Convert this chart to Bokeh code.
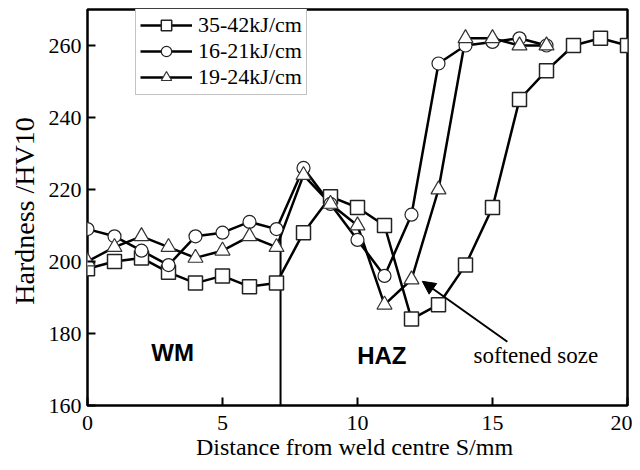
from bokeh.plotting import figure
from bokeh.models import Range1d, Legend, LegendItem, Label, Arrow, NormalHead, FixedTicker
from bokeh.embed import file_html
from bokeh.resources import INLINE

# ---- data ----
x_sq = list(range(0, 21))
hv_sq = [198, 200, 201, 197, 194, 196, 193, 194, 208, 218, 215, 210, 184, 188, 199, 215, 245, 253, 260, 262, 260]
x_ci = list(range(0, 18))
hv_ci = [209, 207, 203, 199, 207, 208, 211, 209, 226, 216, 206, 196, 213, 255, 260, 261, 262, 260]
x_tr = list(range(0, 18))
hv_tr = [200, 204, 207, 204, 201, 203, 207, 204, 224, 216, 210, 188, 195, 220, 262, 262, 260, 260]
labels = ["35-42kJ/cm", "16-21kJ/cm", "19-24kJ/cm"]
x_ticks = [0, 5, 10, 15, 20]
y_ticks = [160, 180, 200, 220, 240, 260]
boundary_x = 7.15
boundary_top = 209
arrow_from = (15.55, 177.7)
arrow_to = (12.4, 194.5)

SERIF = "Liberation Serif"
SANS = "Liberation Sans"

p = figure(width=632, height=468, output_backend="svg", toolbar_location=None,
           x_range=Range1d(0, 20), y_range=Range1d(160, 270),
           min_border_left=87, min_border_right=5, min_border_top=9, min_border_bottom=63)
p.xgrid.visible = False
p.ygrid.visible = False
p.outline_line_color = "black"
p.outline_line_width = 2.5
p.outline_line_alpha = 1.0

for ax in (p.xaxis[0], p.yaxis[0]):
    ax.axis_line_color = None
    ax.major_tick_in = 8
    ax.major_tick_out = 0
    ax.major_tick_line_width = 2
    ax.minor_tick_line_color = None
    ax.major_label_text_font = SERIF
    ax.major_label_text_font_size = "22px"
    ax.major_label_text_color = "black"
    ax.major_label_standoff = 6
    ax.axis_label_text_font = SERIF
    ax.axis_label_text_font_style = "normal"
    ax.axis_label_text_color = "black"
p.xaxis.ticker = FixedTicker(ticks=x_ticks)
p.yaxis.ticker = FixedTicker(ticks=y_ticks)
p.xaxis.major_label_standoff = 10
p.yaxis.axis_label = "Hardness  /HV10"
p.yaxis.axis_label_text_font_size = "28px"
p.yaxis.axis_label_standoff = 6
p.xaxis.axis_label = "Distance from weld centre  S/mm"
p.xaxis.axis_label_text_font_size = "24px"
p.xaxis.axis_label_standoff = 1

# boundary line
p.segment(x0=[boundary_x], y0=[160], x1=[boundary_x], y1=[boundary_top], line_color="black", line_width=2)

lw = 2.5
r_sq_l = p.line(x_sq, hv_sq, line_color="black", line_width=lw)
r_ci_l = p.line(x_ci, hv_ci, line_color="black", line_width=lw)
r_tr_l = p.line(x_tr, hv_tr, line_color="black", line_width=lw)
r_sq_m = p.scatter(x_sq, hv_sq, marker="square", size=14, fill_color="white", line_color="#222222", line_width=1.5)
r_ci_m = p.scatter(x_ci, hv_ci, marker="circle", size=13, fill_color="white", line_color="#222222", line_width=1.2)
r_tr_m = p.scatter(x_tr, hv_tr, marker="triangle", size=15, fill_color="white", line_color="#333333", line_width=1.2)

legend = Legend(items=[
    LegendItem(label=labels[0], renderers=[r_sq_l, r_sq_m]),
    LegendItem(label=labels[1], renderers=[r_ci_l, r_ci_m]),
    LegendItem(label=labels[2], renderers=[r_tr_l, r_tr_m]),
], location=(48, 310))
legend.label_text_font = SERIF
legend.label_text_font_size = "22px"
legend.label_text_color = "black"
legend.label_standoff = 6
legend.glyph_width = 52
legend.glyph_height = 26
legend.label_height = 26
legend.spacing = 0
legend.padding = 4
legend.margin = 0
legend.border_line_color = "#888888"
legend.border_line_width = 1
legend.background_fill_color = "white"
legend.background_fill_alpha = 1.0
p.add_layout(legend, "center")

# annotations
p.add_layout(Label(x=3.15, y=174.8, text="WM", text_font=SANS, text_font_style="bold", text_color="black",
                   text_font_size="24px", text_align="center", text_baseline="middle"))
p.add_layout(Label(x=10.9, y=174, text="HAZ", text_font=SANS, text_font_style="bold", text_color="black",
                   text_font_size="24px", text_align="center", text_baseline="middle"))
p.add_layout(Label(x=14.3, y=174, text="softened soze", text_font=SERIF, text_color="black",
                   text_font_size="23px", text_align="left", text_baseline="middle"))
p.add_layout(Arrow(x_start=arrow_from[0], y_start=arrow_from[1], x_end=arrow_to[0], y_end=arrow_to[1],
                   line_color="black", line_width=2,
                   end=NormalHead(size=13, fill_color="black", line_color="black", line_width=1)))

open("out.html", "w").write(file_html(p, INLINE))
